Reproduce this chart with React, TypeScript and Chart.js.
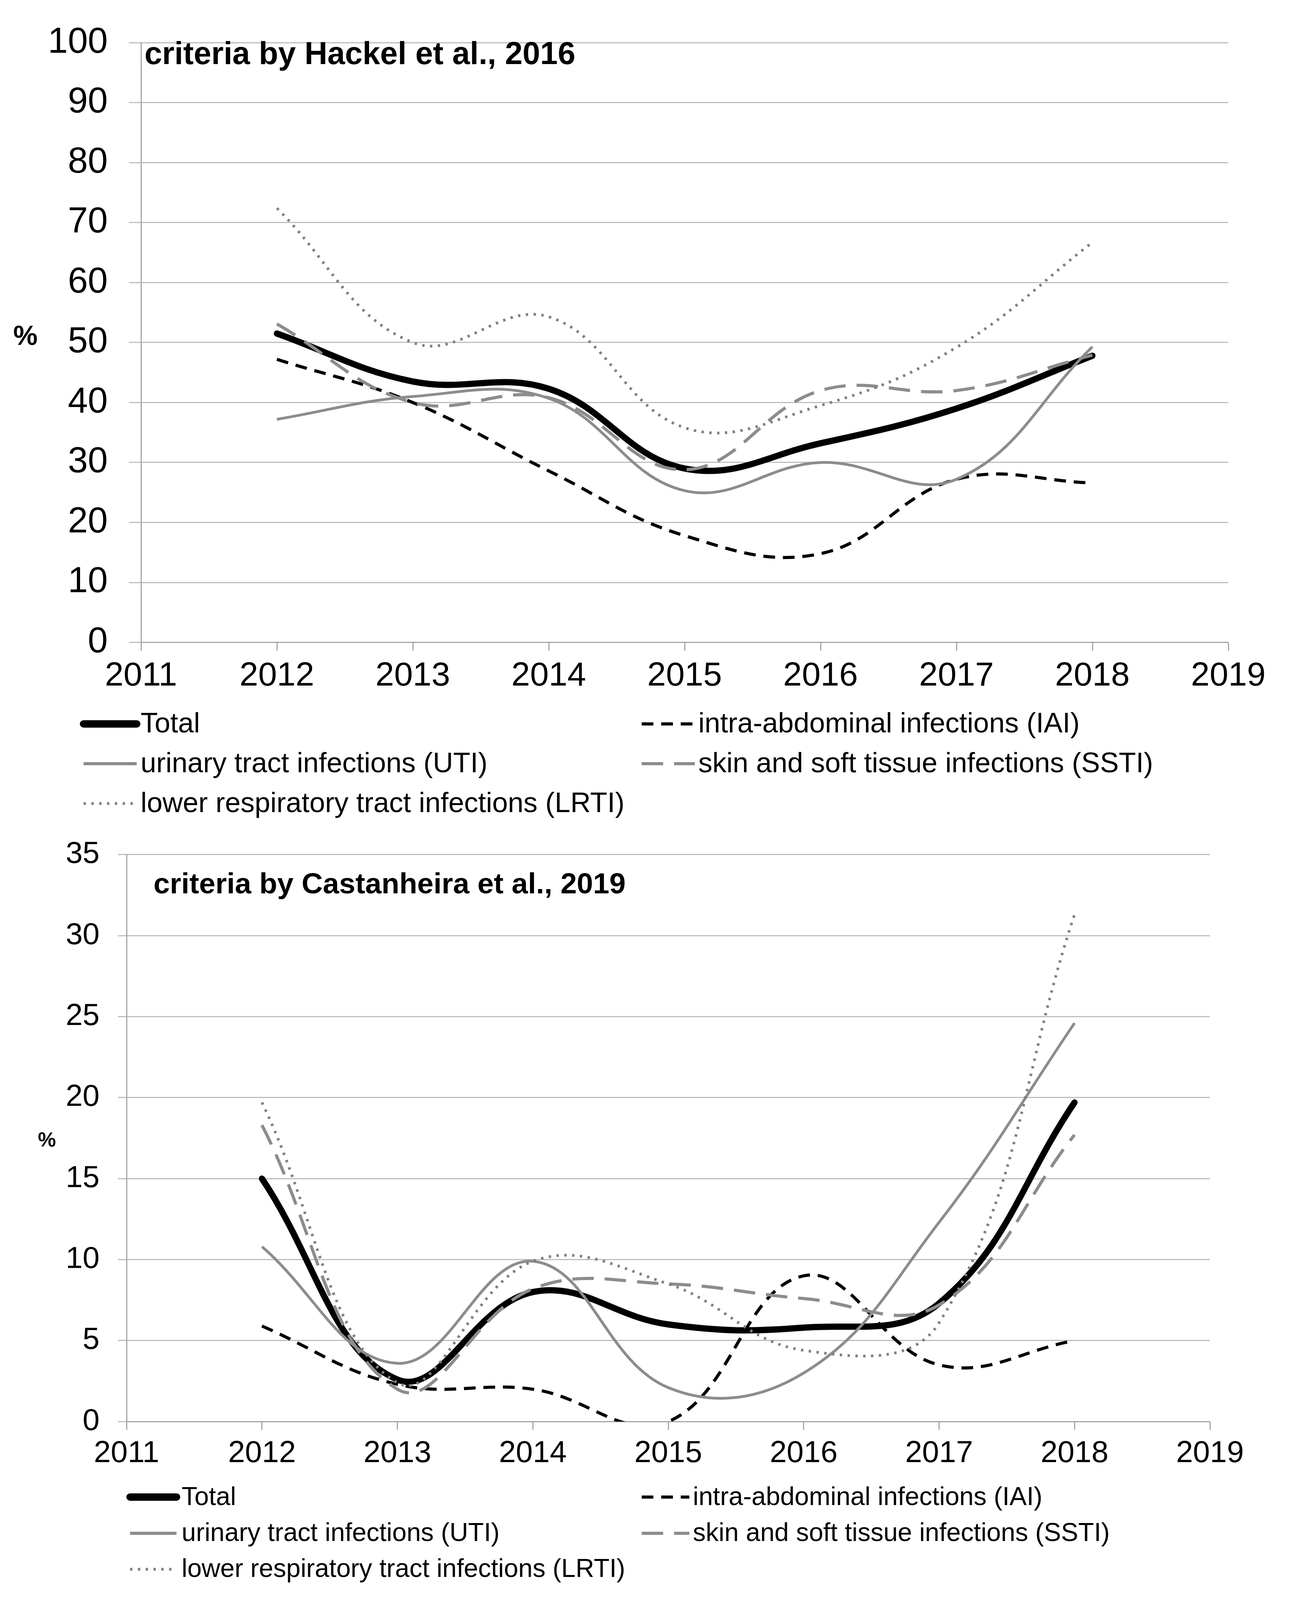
import { useEffect, useRef, useState } from "react";
import { Chart, registerables } from "chart.js";

// Register all Chart.js components
Chart.register(...registerables);

// Survey years on the x axis
const YEARS = [2012, 2013, 2014, 2015, 2016, 2017, 2018];
const X_TICKS = [2011, 2012, 2013, 2014, 2015, 2016, 2017, 2018, 2019];

const SERIES_LABELS = [
  "Total",
  "intra-abdominal infections (IAI)",
  "urinary tract infections (UTI)",
  "skin and soft tissue infections (SSTI)",
  "lower respiratory tract infections (LRTI)",
];

// Top panel: criteria by Hackel et al., 2016 (%)
const HACKEL_Y_TICKS = [0, 10, 20, 30, 40, 50, 60, 70, 80, 90, 100];
const HACKEL_TOTAL = [51.5, 43.5, 42.3, 29.0, 33.2, 39.0, 47.8];
const HACKEL_IAI = [47.2, 40.0, 28.6, 17.8, 14.8, 27.2, 26.6];
const HACKEL_UTI = [37.2, 41.0, 40.7, 25.3, 30.0, 27.2, 49.3];
const HACKEL_SSTI = [53.1, 40.0, 40.8, 28.8, 42.0, 42.0, 47.9];
const HACKEL_LRTI = [72.4, 50.0, 54.3, 35.8, 39.5, 49.2, 66.7];

// Bottom panel: criteria by Castanheira et al., 2019 (%)
const CASTANHEIRA_Y_TICKS = [0, 5, 10, 15, 20, 25, 30, 35];
const CASTANHEIRA_TOTAL = [15.0, 2.6, 8.0, 6.0, 5.8, 7.3, 19.7];
const CASTANHEIRA_IAI = [5.9, 2.3, 2.0, 0.0, 9.0, 3.5, 5.0];
const CASTANHEIRA_UTI = [10.8, 3.6, 9.9, 2.1, 3.0, 12.3, 24.6];
const CASTANHEIRA_SSTI = [18.3, 2.0, 8.2, 8.5, 7.6, 7.2, 17.7];
const CASTANHEIRA_LRTI = [19.7, 2.4, 9.9, 8.5, 4.4, 6.1, 31.3];

const FONT = '"Liberation Sans", Arial, sans-serif';
const GRID = "#bfbfbf";
const AXIS = "#a6a6a6";
const PAGE_W = 3303;
const PAGE_H = 4498;

// line style per series, same order as SERIES_LABELS
const STYLES = [
  { borderColor: "#000000", borderWidth: 16, borderDash: [], legendWidth: 19, cap: "round", order: 5 },
  { borderColor: "#000000", borderWidth: 8, borderDash: [30, 20], legendWidth: 8, cap: "butt", order: 4 },
  { borderColor: "#8c8c8c", borderWidth: 7, borderDash: [], legendWidth: 8, cap: "butt", order: 3 },
  { borderColor: "#8c8c8c", borderWidth: 8, borderDash: [55, 28], legendWidth: 8, cap: "butt", order: 2 },
  { borderColor: "#7f7f7f", borderWidth: 7, borderDash: [6, 14], legendWidth: 7, cap: "butt", order: 1 },
];

type Caption = { text: string; x: number; y: number; weight: string; size: number; align: CanvasTextAlign };

// all y values below are in reference-page pixels, relative to the panel top
type PanelProps = {
  height: number;
  series: number[][];
  yTicks: number[];
  captions: Caption[];
  area: { left: number; top: number; right: number; bottom: number };
  yFont: number;
  xFont: number;
  yTickLength: number;
  yPadding: number;
  xLabelOffset: number;
  legend: {
    rowY: number[];
    columns: { x0: number; x1: number; textX: number }[];
    fontSize: number;
  };
};

// Legend rows: [Total, IAI], [UTI, SSTI], [LRTI]
const LEGEND_ROWS = [[0, 1], [2, 3], [4]];

const makeOverlay = (p: PanelProps, k: number) => ({
  id: "overlay",
  afterDraw(chart: Chart) {
    const ctx = chart.ctx;
    ctx.save();
    ctx.fillStyle = "#000";
    ctx.textBaseline = "alphabetic";
    for (const c of p.captions) {
      ctx.font = `${c.weight} ${c.size}px ${FONT}`;
      ctx.textAlign = c.align;
      ctx.fillText(c.text, c.x, c.y * k);
    }
    LEGEND_ROWS.forEach((row, r) => {
      row.forEach((dsIndex, c) => {
        // eslint-disable-next-line @typescript-eslint/no-explicit-any
        const ds = chart.data.datasets[dsIndex] as any;
        const st = STYLES[dsIndex];
        const col = p.legend.columns[c];
        const y = p.legend.rowY[r] * k;
        ctx.beginPath();
        ctx.strokeStyle = ds.borderColor;
        ctx.lineWidth = st.legendWidth;
        ctx.lineCap = st.cap as CanvasLineCap;
        ctx.setLineDash(st.borderDash);
        ctx.moveTo(col.x0, y);
        ctx.lineTo(col.x1, y);
        ctx.stroke();
        ctx.setLineDash([]);
        ctx.fillStyle = "#000";
        ctx.font = `${p.legend.fontSize}px ${FONT}`;
        ctx.textAlign = "left";
        ctx.textBaseline = "middle";
        ctx.fillText(ds.label, col.textX, y + 2);
      });
    });
    ctx.restore();
  },
});

const Panel = ({ p, k }: { p: PanelProps; k: number }) => {
  const canvasRef = useRef<HTMLCanvasElement>(null);
  const height = Math.round(p.height * k);

  useEffect(() => {
    if (!canvasRef.current) return;
    const xAxisHeight = 150;
    const top = p.area.top * k;
    const bottom = p.area.bottom * k;
    const xTickLength = 23 * k;
    // label centre sits xLabelOffset below the axis (line height 1.2)
    const xPadding = Math.max(0, p.xLabelOffset * k - xTickLength - 0.6 * p.xFont);

    const chart = new Chart(canvasRef.current, {
      type: "line",
      data: {
        datasets: p.series.map((values, i) => ({
          label: SERIES_LABELS[i],
          data: values.map((v, j) => ({ x: YEARS[j], y: v })),
          borderColor: STYLES[i].borderColor,
          borderWidth: STYLES[i].borderWidth,
          borderDash: STYLES[i].borderDash,
          borderCapStyle: STYLES[i].cap as CanvasLineCap,
          borderJoinStyle: "round",
          order: STYLES[i].order,
          pointRadius: 0,
          fill: false,
          tension: 0.4,
        })),
      },
      options: {
        animation: false,
        responsive: false,
        devicePixelRatio: 1,
        layout: {
          padding: {
            left: 0,
            top,
            right: PAGE_W - p.area.right,
            bottom: height - bottom - xAxisHeight,
          },
        },
        elements: { line: { capBezierPoints: false } },
        plugins: {
          legend: { display: false },
          tooltip: { enabled: false },
        },
        scales: {
          x: {
            type: "linear",
            min: 2011,
            max: 2019,
            afterBuildTicks: (s) => {
              s.ticks = X_TICKS.map((v) => ({ value: v }));
            },
            afterFit: (s) => {
              s.height = xAxisHeight;
            },
            grid: {
              drawOnChartArea: false,
              drawTicks: true,
              tickLength: xTickLength,
              tickColor: AXIS,
              tickWidth: 3,
            },
            border: { display: true, color: AXIS, width: 3 },
            ticks: {
              color: "#000",
              font: { family: FONT, size: p.xFont },
              padding: xPadding,
              autoSkip: false,
              maxRotation: 0,
              callback: (v) => String(v),
            },
          },
          y: {
            min: 0,
            max: p.yTicks[p.yTicks.length - 1],
            afterBuildTicks: (s) => {
              s.ticks = p.yTicks.map((v) => ({ value: v }));
            },
            afterFit: (s) => {
              s.width = p.area.left;
            },
            grid: {
              color: GRID,
              lineWidth: 3,
              tickLength: p.yTickLength,
              tickColor: GRID,
            },
            border: { display: true, color: AXIS, width: 3 },
            ticks: {
              color: "#000",
              font: { family: FONT, size: p.yFont },
              padding: p.yPadding,
              callback: (v) => String(v),
            },
          },
        },
      },
      plugins: [makeOverlay(p, k)],
    });

    return () => chart.destroy();
  }, [p, k, height]);

  return (
    <canvas
      ref={canvasRef}
      width={PAGE_W}
      height={height}
      style={{ display: "block", width: PAGE_W, height }}
    />
  );
};

const TOP: PanelProps = {
  height: 2300,
  series: [HACKEL_TOTAL, HACKEL_IAI, HACKEL_UTI, HACKEL_SSTI, HACKEL_LRTI],
  yTicks: HACKEL_Y_TICKS,
  captions: [
    { text: "criteria by Hackel et al., 2016", x: 370, y: 180, weight: "bold", size: 81, align: "left" },
    { text: "%", x: 65, y: 970, weight: "bold", size: 70, align: "center" },
  ],
  area: { left: 361, top: 78, right: 3145, bottom: 1806 },
  yFont: 92,
  xFont: 86,
  yTickLength: 31,
  yPadding: 54,
  xLabelOffset: 95,
  legend: {
    rowY: [2035, 2147, 2259],
    columns: [
      { x0: 214, x1: 350, textX: 360 },
      { x0: 1643, x1: 1779, textX: 1788 },
    ],
    fontSize: 72,
  },
};

const BOTTOM: PanelProps = {
  height: 2198,
  series: [CASTANHEIRA_TOTAL, CASTANHEIRA_IAI, CASTANHEIRA_UTI, CASTANHEIRA_SSTI, CASTANHEIRA_LRTI],
  yTicks: CASTANHEIRA_Y_TICKS,
  captions: [
    { text: "criteria by Castanheira et al., 2019", x: 393, y: 212, weight: "bold", size: 75, align: "left" },
    { text: "%", x: 120, y: 923, weight: "bold", size: 52, align: "center" },
  ],
  area: { left: 324, top: 97, right: 3098, bottom: 1697 },
  yFont: 78,
  xFont: 78,
  yTickLength: 22,
  yPadding: 47,
  xLabelOffset: 90,
  legend: {
    rowY: [1909, 2011, 2112],
    columns: [
      { x0: 333, x1: 452, textX: 465 },
      { x0: 1643, x1: 1765, textX: 1774 },
    ],
    fontSize: 66,
  },
};

export default function App() {
  // the visible viewport can be shorter than the page; squeeze the layout vertically to fit
  const [k] = useState(() => Math.min(1, (window.innerHeight || PAGE_H) / PAGE_H));

  useEffect(() => {
    document.body.style.margin = "0";
  }, []);

  return (
    <div style={{ width: PAGE_W, height: Math.round(PAGE_H * k), background: "#fff", overflow: "hidden" }}>
      <Panel p={TOP} k={k} />
      <Panel p={BOTTOM} k={k} />
    </div>
  );
}
